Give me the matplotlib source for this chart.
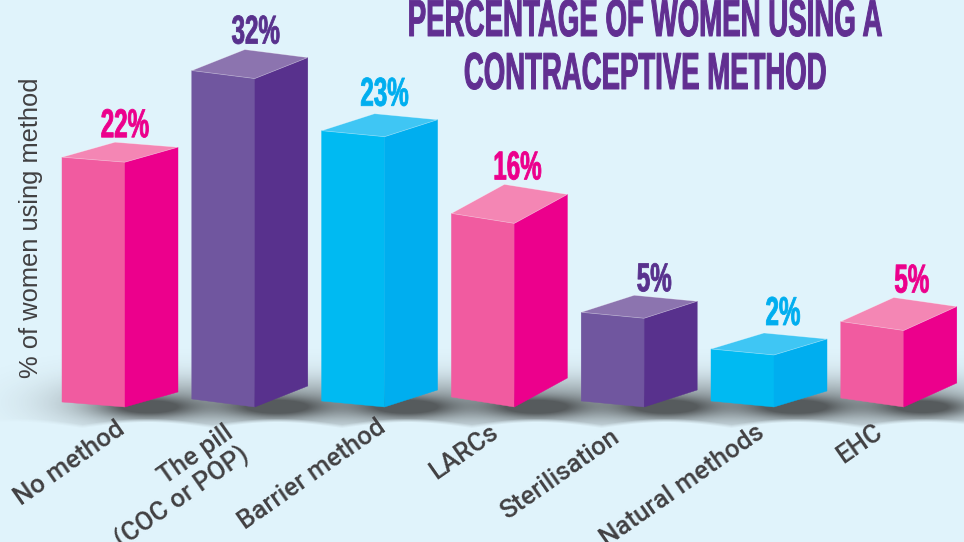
import matplotlib
matplotlib.use("Agg")
import matplotlib.pyplot as plt
from matplotlib.patches import Polygon
from matplotlib.patheffects import AbstractPathEffect
from matplotlib.transforms import Affine2D
import numpy as np

# data
categories = ["No method", "The pill\n(COC or POP)", "Barrier method", "LARCs",
              "Sterilisation", "Natural methods", "EHC"]
value_labels = ["22%", "32%", "23%", "16%", "5%", "2%", "5%"]
# the drawn bars are not to scale with their labels, these are the drawn heights
drawn_heights = [24.0, 32.2, 26.5, 18.0, 8.7, 5.1, 7.5]

# colours: front, side, top
PINK = ("#F15BA0", "#EC008C", "#F486B4")
PURPLE = ("#70569F", "#58318D", "#8C74AF")
BLUE = ("#00BAF2", "#00AEEF", "#3FC6F4")
bar_colors = [PINK, PURPLE, BLUE, PINK, PURPLE, BLUE, PINK]
BG = "#E0F3FB"
TEXT = "#414042"

# perspective of each box, in pixels
front_slope = [5, 8, 6, 10, 6, 6, 9]
side_rise = [15, 21, 17, 29, 17, 16, 24]
label_gap = [5, 6, 8, 5, 4, 8, 5]
label_shift = [0, 1, 0, 3, 10, 9, 8]
# end of each category label, pixels from the left edge of the bar and from the top
label_dx = [60, 47, 62, 44, 36, 51, 39]
label_y = [427, 442, 425, 430, 435, 430, 430]

# layout
W, H = 964, 542
X_STEP = 129.8
Y_STEP = 10.2
X0 = 62
BASE = 407
FRONT_W = 63
SIDE_W = 53

fig = plt.figure(figsize=(W / 100, H / 100), dpi=100, facecolor=BG)
ax = fig.add_axes([0, 0, 1, 1])
ax.axis("off")
xlim = (-X0 / X_STEP, (W - X0) / X_STEP)
ylim = (-(H - BASE) / Y_STEP, BASE / Y_STEP)


class Tall(AbstractPathEffect):
    # stretches a text upward from its baseline, there is no condensed font to use
    def __init__(self, sy, base, lw=0.0):
        super().__init__()
        self.sy = sy
        self.base = base
        self.lw = lw

    def draw_path(self, renderer, gc, tpath, affine, rgbFace=None):
        gc0 = renderer.new_gc()
        gc0.copy_properties(gc)
        gc0.set_linewidth(self.lw)
        gc0.set_foreground(rgbFace)
        tall = affine + Affine2D().translate(0, -self.base).scale(1, self.sy).translate(0, self.base)
        renderer.draw_path(gc0, tpath, tall, rgbFace)
        gc0.restore()


def px_x(dx):
    return dx / X_STEP


def px_y(dy):
    return dy / Y_STEP


ax.set_xlim(xlim)
ax.set_ylim(ylim)

# soft shadow under the bars
xx, yy = np.meshgrid(np.arange(W), np.arange(H))
shade = np.zeros((H, W))
for i in range(len(categories)):
    mid = X0 + i * X_STEP + FRONT_W
    shade += 0.36 * np.exp(-((xx - mid - 12) / 85.0) ** 2 - ((yy - 402) / 25.0) ** 2)
    shade += 0.55 * np.exp(-((xx - mid - 22) / 45.0) ** 2 - ((yy - 407) / 10.0) ** 2)
arc = 428 - 6 * np.abs(np.sin(np.pi * (xx - X0 - 20) / X_STEP))
shade *= np.clip((arc - yy) / 4.0, 0, 1)
shade = np.clip(shade, 0, 0.75)
rgba = np.zeros((H, W, 4))
rgba[..., :3] = 0.16
rgba[..., 3] = shade
ax.imshow(rgba, extent=(xlim[0], xlim[1], ylim[0], ylim[1]), origin="upper", aspect="auto", zorder=1)
ax.set_xlim(xlim)
ax.set_ylim(ylim)

# boxes
for i, h in enumerate(drawn_heights):
    front, side, top = bar_colors[i]
    left = i
    mid = i + px_x(FRONT_W)
    right = mid + px_x(SIDE_W)
    slope = px_y(front_slope[i])
    rise = px_y(side_rise[i])
    ax.add_patch(Polygon([(left, slope), (mid, 0), (mid, h), (left, h + slope)], fc=front, ec=front, lw=0.3, zorder=3))
    ax.add_patch(Polygon([(mid, 0), (right, rise), (right, h + rise), (mid, h)], fc=side, ec=side, lw=0.3, zorder=3))
    ax.add_patch(Polygon([(left, h + slope), (mid, h), (right, h + rise), (left + right - mid, h + slope + rise)],
                         fc=top, ec="#FFFFFF60", lw=0.5, zorder=4))
    label_base = h + slope + rise + px_y(label_gap[i])
    t = ax.text(mid + px_x(label_shift[i]), label_base, value_labels[i], color=side,
                family="Liberation Sans", weight="bold", fontsize=17.4, ha="center", va="baseline", zorder=5)
    t.set_path_effects([Tall(1 / 0.6, ax.transData.transform((0, label_base))[1], 0.6)])

    ax.text(i + px_x(label_dx[i]), (BASE - label_y[i]) / Y_STEP, categories[i], color=TEXT,
            family="Roboto", weight="medium", fontsize=18.6, rotation=35, rotation_mode="anchor",
            ha="right", va="center", ma="right", linespacing=1.05, zorder=5)

# axis label
ax.text(px_x(31 - X0), (BASE - 228) / Y_STEP, "% of women using method", color=TEXT,
        family="Liberation Sans", fontsize=18.4, rotation=90, ha="center", va="center", zorder=5)

# title, each line sized to its width in the picture and stretched to its height
title_lines = ["PERCENTAGE OF WOMEN USING A", "CONTRACEPTIVE METHOD"]
title_baselines = [36, 89]
title_widths = [475, 363]
TITLE_X = 645
TITLE_SIZE = 37.5
renderer = fig.canvas.get_renderer()
for line, base, width in zip(title_lines, title_baselines, title_widths):
    y = (BASE - base) / Y_STEP
    t = ax.text(px_x(TITLE_X - X0), y, line, color="#612F91",
                family="Liberation Sans", weight="bold", fontsize=TITLE_SIZE, ha="center", va="baseline", zorder=5)
    sx = width / t.get_window_extent(renderer).width
    t.set_fontsize(TITLE_SIZE * sx)
    t.set_path_effects([Tall(1 / sx, ax.transData.transform((0, y))[1], 0.7)])

fig.savefig("out.png", dpi=100, facecolor=BG)
